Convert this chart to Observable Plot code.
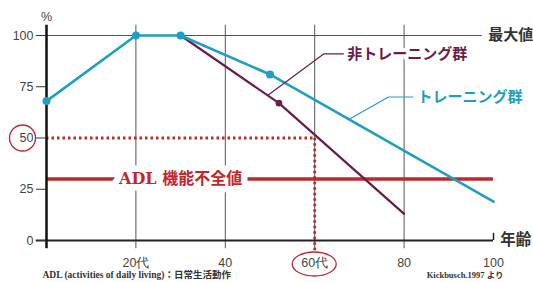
<!DOCTYPE html>
<html><head><meta charset="utf-8">
<script src="https://cdn.jsdelivr.net/npm/d3@7"></script>
<script src="https://cdn.jsdelivr.net/npm/@observablehq/plot@0.6"></script>
<style>
body{margin:0;background:#fff;}
svg{font-family:"Liberation Sans",Arial,sans-serif;}
</style></head>
<body><div id="chart"></div>
<script>
// Data
const trainingAges = [0, 20, 30, 50, 100];
const trainingValues = [68, 100, 100, 81, 19];
const trainingDotAges = [0, 20, 30, 50];
const nonTrainingAges = [30, 52, 80];
const nonTrainingValues = [100, 67, 13];
const nonTrainingDotAges = [52];
const adlThreshold = 30;
const xTicks = [20, 40, 60, 80, 100];
const xTickLabels = ["20代", "40", "60代", "80", "100"];
const yTicks = [0, 25, 50, 75, 100];
const gridAges = [20, 40, 60, 80];
const focusAge = 60;
const focusValue = 50;

const training = trainingAges.map((a, i) => ({age: a, v: trainingValues[i]}));
const trainingDots = training.filter(d => trainingDotAges.includes(d.age));
const nonTraining = nonTrainingAges.map((a, i) => ({age: a, v: nonTrainingValues[i]}));
const nonTrainingDots = nonTraining.filter(d => nonTrainingDotAges.includes(d.age));

const TEAL = "#1f9fc4", PURPLE = "#6b1c48", RED = "#c1272d", GRID = "#555";
const CJK = "'Noto Sans CJK JP', sans-serif";
const SERIF_CJK = "'DejaVu Serif', 'Noto Sans CJK JP', serif";

const ellipseMark = (index, {x, y}) => {
  const e = d3.create("svg:ellipse")
    .attr("cx", x(focusAge)).attr("cy", y(0) + 24)
    .attr("rx", 22).attr("ry", 12)
    .attr("fill", "none").attr("stroke", RED).attr("stroke-width", 1.3);
  return e.node();
};

const chart = Plot.plot({
  width: 533, height: 282,
  marginLeft: 46, marginRight: 40, marginTop: 35, marginBottom: 42,
  x: {domain: [0, 100], label: null},
  y: {domain: [0, 100], label: null},
  style: {background: "#fff", color: "#333"},
  marks: [
    // grid verticals
    Plot.ruleX(gridAges, {y1: -4, y2: 105, stroke: GRID, strokeWidth: 1}),
    // top max line
    Plot.ruleY([100], {x1: -2.3, x2: 97.5, stroke: GRID, strokeWidth: 1.2}),
    // end tick at 100
    Plot.ruleX([100], {y1: 0, y2: 3.5, stroke: "#222", strokeWidth: 1.5}),
    // dotted 50 guide
    Plot.ruleY([focusValue], {x1: 0, x2: focusAge, stroke: RED, strokeWidth: 2.8, strokeDasharray: "2.5,3"}),
    Plot.ruleX([focusAge], {y1: -5, y2: focusValue, stroke: RED, strokeWidth: 2.8, strokeDasharray: "2.5,3"}),
    // ADL threshold
    Plot.ruleY([adlThreshold], {x1: 0, x2: 100, stroke: RED, strokeWidth: 3.5}),
    // axes
    Plot.ruleY([0], {x1: -2.3, x2: 100, stroke: "#222", strokeWidth: 2}),
    Plot.ruleX([0], {y1: -4, y2: 105, stroke: "#111", strokeWidth: 2.5}),
    Plot.axisY({ticks: yTicks, tickSize: 10, tickPadding: 3, fontSize: 12.5, stroke: "#333", strokeWidth: 1, color: "#444", label: null}),
    Plot.axisX({ticks: xTicks, tickFormat: (d, i) => xTickLabels[i], tickSize: 0, tickPadding: 18, fontSize: 12.5, color: "#444", label: null}),
    // lines
    Plot.line(nonTraining, {x: "age", y: "v", stroke: PURPLE, strokeWidth: 2.2}),
    Plot.line(training, {x: "age", y: "v", stroke: TEAL, strokeWidth: 2.6}),
    Plot.dot(nonTrainingDots, {x: "age", y: "v", r: 3.3, fill: PURPLE}),
    Plot.dot(trainingDots, {x: "age", y: "v", r: 4, fill: TEAL}),
    // ADL label with halo
    Plot.text(["ADL 機能不全値"], {x: 30, y: adlThreshold, fontSize: 16, fontWeight: "bold", fill: RED, stroke: "white", strokeWidth: 13, fontFamily: SERIF_CJK, letterSpacing: 1.5}),
    // series labels with leaders
    Plot.line([{age: 49.6, v: 71}, {age: 62, v: 91}, {age: 66.5, v: 91}], {x: "age", y: "v", stroke: PURPLE, strokeWidth: 1.2}),
    Plot.text(["非トレーニング群"], {x: 67.3, y: 91, textAnchor: "start", fontSize: 15, fontWeight: "bold", fill: PURPLE, stroke: "white", strokeWidth: 8, fontFamily: CJK}),
    Plot.line([{age: 68, v: 59.5}, {age: 76.5, v: 70}, {age: 82, v: 70}], {x: "age", y: "v", stroke: TEAL, strokeWidth: 1.2}),
    Plot.text(["トレーニング群"], {x: 83, y: 70, textAnchor: "start", fontSize: 15, fontWeight: "bold", fill: TEAL, stroke: "white", strokeWidth: 6, fontFamily: CJK}),
    // right-side labels
    Plot.text(["最大値"], {x: 98.8, y: 100, textAnchor: "start", fontSize: 15, fontWeight: "bold", fill: "#333", fontFamily: CJK}),
    Plot.text(["年齢"], {x: 101.5, y: 0, textAnchor: "start", fontSize: 15.5, fontWeight: "bold", fill: "#333", fontFamily: CJK}),
    Plot.text(["%"], {x: 0, y: 109, fontSize: 12.5, fill: "#444"}),
    // circle around 50 label
    Plot.dot([focusValue], {x: 0, y: d => d, dx: -24, r: 13, stroke: RED, strokeWidth: 1.3, fill: "none"}),
    ellipseMark,
    // footer
    Plot.text(["ADL (activities of daily living)：日常生活動作"], {frameAnchor: "bottom-left", dx: -4, dy: 37, textAnchor: "start", fontSize: 9.5, fontWeight: "bold", fill: "#333", fontFamily: "'Liberation Serif', 'Noto Sans CJK JP', serif"}),
    Plot.text(["Kickbusch.1997 より"], {frameAnchor: "bottom-right", dx: 10, dy: 37, textAnchor: "end", fontSize: 8.5, fontWeight: "bold", fill: "#333", fontFamily: "'Liberation Serif', 'Noto Sans CJK JP', serif"})
  ]
});
document.getElementById("chart").append(chart);
</script></body></html>
